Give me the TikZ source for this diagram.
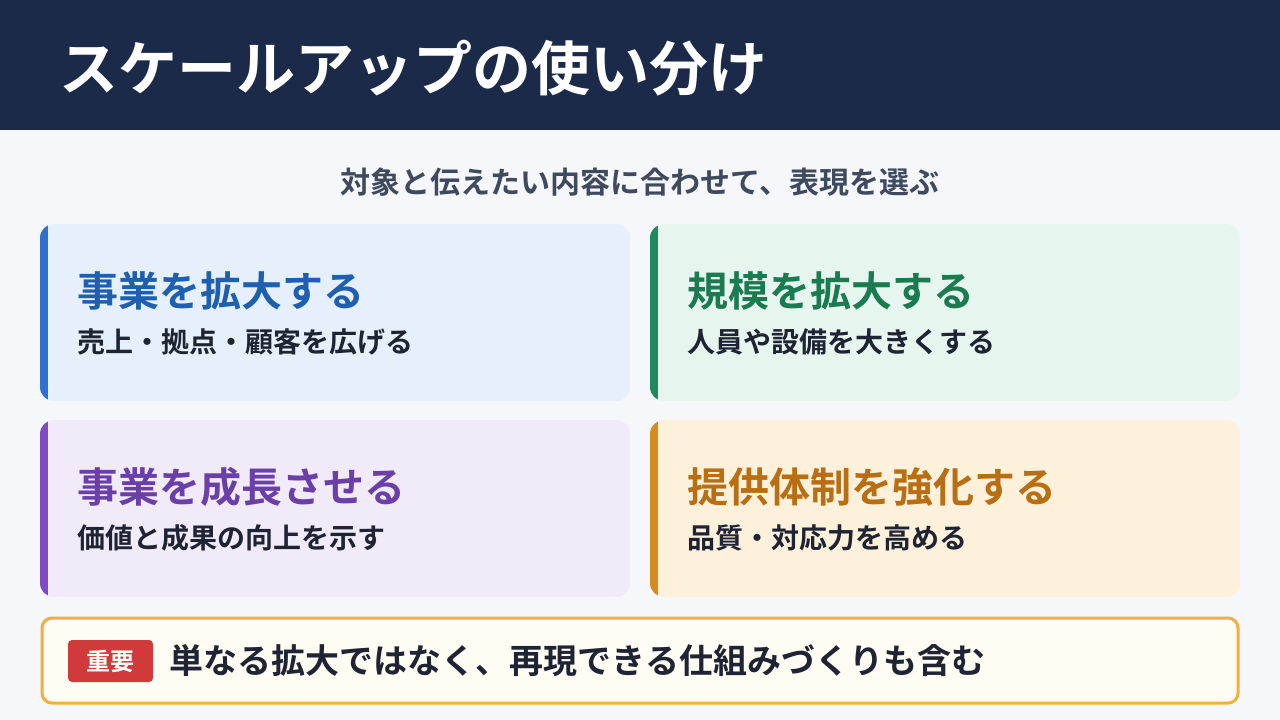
\documentclass[tikz,border=0pt]{standalone}
\usepackage{fontspec}
\setmainfont{Noto Sans CJK JP}[BoldFont={* Bold}]
\usetikzlibrary{positioning}
\definecolor{navy}{HTML}{1C2A4A}
\definecolor{bgc}{HTML}{F5F7FB}
\definecolor{subc}{HTML}{3F4A5E}
\definecolor{inkc}{HTML}{1E2433}
\definecolor{bluefill}{HTML}{E6F0FC}\definecolor{bluebar}{HTML}{2F6FD0}\definecolor{bluetxt}{HTML}{1F5FAF}
\definecolor{greenfill}{HTML}{E6F6EF}\definecolor{greenbar}{HTML}{1E8A5E}\definecolor{greentxt}{HTML}{1A7A50}
\definecolor{purplefill}{HTML}{F1EAF9}\definecolor{purplebar}{HTML}{7E4CC0}\definecolor{purpletxt}{HTML}{6B3FA8}
\definecolor{orangefill}{HTML}{FEF1DC}\definecolor{orangebar}{HTML}{D98A1E}\definecolor{orangetxt}{HTML}{B86E12}
\definecolor{notefill}{HTML}{FFFCF4}\definecolor{noteline}{HTML}{F0B040}
\definecolor{badge}{HTML}{D03A3A}
\tikzset{
  cardtitle/.style={anchor=west, font=\bfseries\fontsize{41}{46}\selectfont},
  cardtext/.style={anchor=west, text=inkc, font=\bfseries\fontsize{28}{32}\selectfont},
}
\begin{document}
\begin{tikzpicture}[x=1pt,y=-1pt]
    \useasboundingbox (0,0) rectangle (1280,720);
    % background and header
    \fill[bgc] (0,0) rectangle (1280,720);
    \fill[navy] (0,0) rectangle (1280,130);
    \node[anchor=west, text=white, font=\bfseries\fontsize{59}{65}\selectfont] (title) at (56,68) {スケールアップの使い分け};
    \node[text=subc, font=\bfseries\fontsize{30}{34}\selectfont] (lead) at (640,182) {対象と伝えたい内容に合わせて、表現を選ぶ};
    
    % cards
    \foreach \x/\y/\c/\name/\head/\body in {
        40/224/blue/grow/事業を拡大する/売上・拠点・顧客を広げる,
        650/224/green/scale/規模を拡大する/人員や設備を大きくする,
        40/420/purple/value/事業を成長させる/価値と成果の向上を示す,
        650/420/orange/system/提供体制を強化する/品質・対応力を高める}{
        \begin{scope}
            \clip[rounded corners=14] (\x,\y) rectangle ++(590,177);
            \fill[\c fill] (\x,\y) rectangle ++(590,177);
            \fill[\c bar] (\x,\y) rectangle ++(8,177);
        \end{scope}
        \node[cardtitle, text=\c txt] (\name-head) at (\x+34,\y+67) {\head};
        \node[cardtext] (\name-body) at (\x+34,\y+118) {\body};
    }
    
    % note box
    \draw[noteline, line width=3, fill=notefill, rounded corners=10] (42,618) rectangle (1238,703);
    \node[fill=badge, text=white, rounded corners=4, minimum width=85, minimum height=42, font=\bfseries\fontsize{24}{28}\selectfont] (badge) at (110.5,661) {重要};
    \node[anchor=west, text=inkc, font=\bfseries\fontsize{34}{38}\selectfont, right=13pt of badge] (note) {単なる拡大ではなく、再現できる仕組みづくりも含む};
\end{tikzpicture}
\end{document}
